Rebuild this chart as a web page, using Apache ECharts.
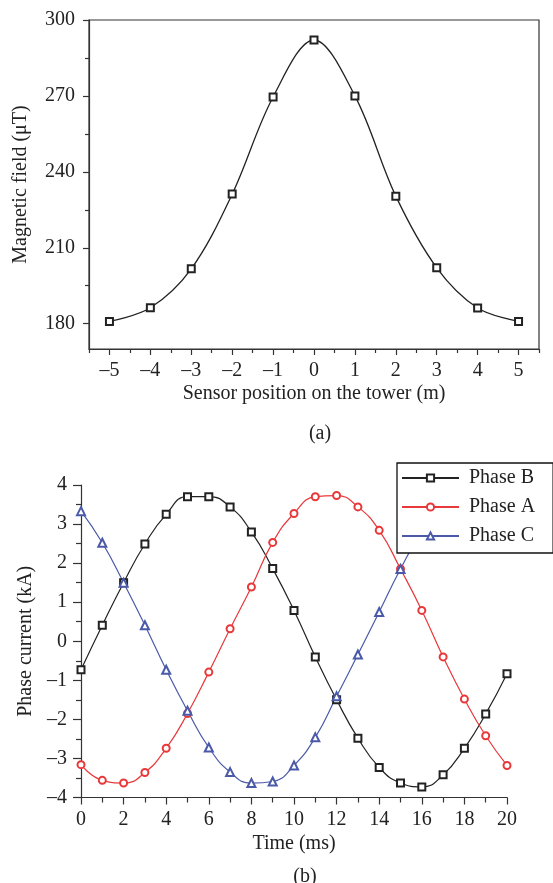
<!DOCTYPE html>
<html>
<head>
<meta charset="utf-8">
<script src="https://cdn.jsdelivr.net/npm/echarts@6/dist/echarts.min.js"></script>
<style>
  html, body { margin: 0; padding: 0; background: #fff; }
  #chart { width: 553px; height: 883px; }
</style>
</head>
<body>
<div id="chart"></div>
<script>
// (a) magnetic field along the tower
var sensorPos = [-5, -4, -3, -2, -1, 0, 1, 2, 3, 4, 5];
var fieldValues = [180.9, 186.3, 201.7, 231.2, 269.6, 292.1, 270.0, 230.4, 202.1, 186.2, 180.9];
var fieldTicks = [180, 210, 240, 270, 300];
var fieldMinorTicks = [195, 225, 255, 285];
var posMinorTicks = [-5.5, -4.5, -3.5, -2.5, -1.5, -0.5, 0.5, 1.5, 2.5, 3.5, 4.5, 5.5];

// (b) phase currents
var timeMs = [0, 1, 2, 3, 4, 5, 6, 7, 8, 9, 10, 11, 12, 13, 14, 15, 16, 17, 18, 19, 20];
var phaseB = [-0.73, 0.41, 1.50, 2.49, 3.25, 3.70, 3.70, 3.44, 2.80, 1.86, 0.79, -0.40, -1.50, -2.48, -3.23, -3.63, -3.73, -3.42, -2.74, -1.86, -0.83];
var phaseA = [-3.16, -3.56, -3.63, -3.36, -2.74, -1.85, -0.79, 0.32, 1.39, 2.53, 3.27, 3.70, 3.73, 3.44, 2.84, 1.85, 0.79, -0.40, -1.48, -2.42, -3.18];
// values after 15 ms sit behind the legend box
var phaseC = [3.33, 2.52, 1.50, 0.41, -0.73, -1.78, -2.72, -3.35, -3.63, -3.59, -3.18, -2.46, -1.41, -0.34, 0.75, 1.85, 2.80, 3.45, 3.72, 3.65, 3.30];

var FONT = 'Liberation Serif';
var TXT = '#222';
var AXIS = '#333';

function pairs(xs, ys) {
    return xs.map(function (x, i) { return [x, ys[i]]; });
}
function dash(v) {
    return v < 0 ? '\u2013' + Math.abs(v) : String(v);
}

var chart = echarts.init(document.getElementById('chart'));

var option = {
    animation: false,
    textStyle: { fontFamily: FONT },
    title: [
        { text: '(a)', left: 315, top: 419, textAlign: 'center',
          textStyle: { fontFamily: FONT, fontSize: 20, fontWeight: 'normal', color: TXT } },
        { text: '(b)', left: 300, top: 862, textAlign: 'center',
          textStyle: { fontFamily: FONT, fontSize: 20, fontWeight: 'normal', color: TXT } }
    ],
    legend: {
        data: ['Phase B', 'Phase A', 'Phase C'],
        orient: 'vertical',
        left: 397,
        top: 463,
        padding: [5, 18, 7, 4],
        itemGap: 9,
        itemWidth: 57,
        itemHeight: 9,
        backgroundColor: '#fff',
        borderColor: '#111',
        borderWidth: 1.3,
        borderRadius: 0,
        textStyle: { fontFamily: FONT, fontSize: 20, color: TXT, padding: [0, 0, 0, 5] }
    },
    grid: [
        { left: 89, right: 14, top: 20, height: 329, show: true, borderColor: AXIS, borderWidth: 1.2, containLabel: false },
        { left: 81, right: 46, top: 485, height: 312.5, containLabel: false }
    ],
    xAxis: [
        {
            gridIndex: 0, type: 'value', min: -5.5, max: 5.5,
            name: 'Sensor position on the tower (m)', nameLocation: 'middle', nameGap: 35,
            nameTextStyle: { fontFamily: FONT, fontSize: 20, color: TXT },
            axisLine: { onZero: false, lineStyle: { color: AXIS, width: 1.2 } },
            axisTick: { customValues: sensorPos, length: 6, lineStyle: { color: AXIS, width: 1.2 } },
            axisLabel: { customValues: sensorPos, margin: 12, fontFamily: FONT, fontSize: 20, color: TXT, formatter: dash },
            splitLine: { show: false }
        },
        {
            gridIndex: 0, type: 'value', min: -5.5, max: 5.5, position: 'bottom',
            axisLine: { show: false, onZero: false },
            axisTick: { customValues: posMinorTicks, length: 4, lineStyle: { color: AXIS, width: 1.2 } },
            axisLabel: { show: false },
            splitLine: { show: false }
        },
        {
            gridIndex: 1, type: 'value', min: 0, max: 20, interval: 2,
            name: 'Time (ms)', nameLocation: 'middle', nameGap: 36,
            nameTextStyle: { fontFamily: FONT, fontSize: 20, color: TXT },
            axisLine: { onZero: false, lineStyle: { color: AXIS, width: 1.2 } },
            axisTick: { length: 7, lineStyle: { color: AXIS, width: 1.2 } },
            minorTick: { show: true, splitNumber: 2, length: 5, lineStyle: { color: AXIS, width: 1.2 } },
            axisLabel: { margin: 12, fontFamily: FONT, fontSize: 20, color: TXT },
            splitLine: { show: false }
        }
    ],
    yAxis: [
        {
            gridIndex: 0, type: 'value', min: 170, max: 300,
            name: 'Magnetic field (\u03bcT)', nameLocation: 'middle', nameGap: 58,
            nameTextStyle: { fontFamily: FONT, fontSize: 20, color: TXT },
            axisLine: { onZero: false, lineStyle: { color: AXIS, width: 1.2 } },
            axisTick: { customValues: fieldTicks, length: 6, lineStyle: { color: AXIS, width: 1.2 } },
            axisLabel: { customValues: fieldTicks, margin: 14, fontFamily: FONT, fontSize: 20, color: TXT },
            splitLine: { show: false }
        },
        {
            gridIndex: 0, type: 'value', min: 170, max: 300, position: 'left',
            axisLine: { show: false, onZero: false },
            axisTick: { customValues: fieldMinorTicks, length: 4, lineStyle: { color: AXIS, width: 1.2 } },
            axisLabel: { show: false },
            splitLine: { show: false }
        },
        {
            gridIndex: 1, type: 'value', min: -4, max: 4, interval: 1,
            name: 'Phase current (kA)', nameLocation: 'middle', nameGap: 43,
            nameTextStyle: { fontFamily: FONT, fontSize: 20, color: TXT },
            axisLine: { onZero: false, lineStyle: { color: AXIS, width: 1.2 } },
            axisTick: { length: 8, lineStyle: { color: AXIS, width: 1.2 } },
            minorTick: { show: true, splitNumber: 2, length: 5, lineStyle: { color: AXIS, width: 1.2 } },
            axisLabel: { margin: 14, fontFamily: FONT, fontSize: 20, color: TXT, formatter: dash },
            splitLine: { show: false }
        }
    ],
    series: [
        {
            name: 'Magnetic field', type: 'line', xAxisIndex: 0, yAxisIndex: 0,
            data: pairs(sensorPos, fieldValues),
            smooth: 0.35, symbol: 'emptyRect', symbolSize: 7, showAllSymbol: true,
            lineStyle: { color: '#222', width: 1.3 },
            itemStyle: { color: '#222', borderWidth: 1.2 }
        },
        {
            name: 'Phase B', type: 'line', xAxisIndex: 2, yAxisIndex: 2,
            data: pairs(timeMs, phaseB),
            smooth: 0.5, symbol: 'emptyRect', symbolSize: 7, showAllSymbol: true,
            lineStyle: { color: '#222', width: 1.2 },
            itemStyle: { color: '#222', borderWidth: 1.2 }
        },
        {
            name: 'Phase A', type: 'line', xAxisIndex: 2, yAxisIndex: 2,
            data: pairs(timeMs, phaseA),
            smooth: 0.5, symbol: 'emptyCircle', symbolSize: 7, showAllSymbol: true,
            lineStyle: { color: '#e8383a', width: 1.2 },
            itemStyle: { color: '#e8383a', borderWidth: 1.2 }
        },
        {
            name: 'Phase C', type: 'line', xAxisIndex: 2, yAxisIndex: 2,
            data: pairs(timeMs, phaseC),
            smooth: 0.5, symbol: 'emptyTriangle', symbolSize: 8, showAllSymbol: true,
            lineStyle: { color: '#4a5aa8', width: 1.2 },
            itemStyle: { color: '#4a5aa8', borderWidth: 1.2 }
        }
    ]
};

chart.setOption(option);
</script>
</body>
</html>
